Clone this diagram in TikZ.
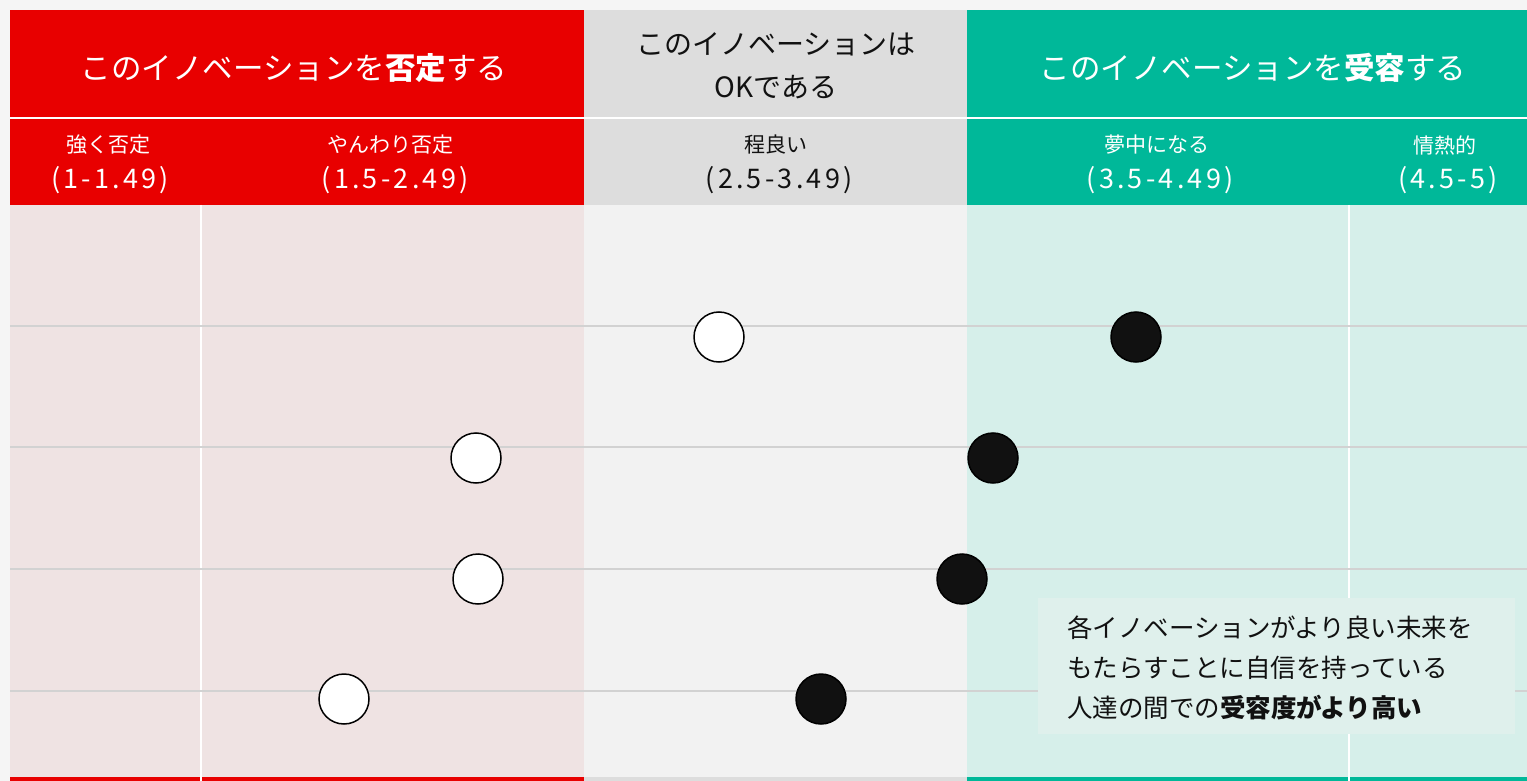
\documentclass[tikz,border=0pt]{standalone}
\usepackage{fontspec}
\setmainfont{Noto Sans CJK JP}
\newfontfamily\rangefont[LetterSpace=12]{Noto Sans CJK JP}
\definecolor{bg}{HTML}{F5F5F5}
\definecolor{hred}{HTML}{E80000}
\definecolor{hgray}{HTML}{DDDDDD}
\definecolor{hgreen}{HTML}{00B899}
\definecolor{bred}{HTML}{EFE3E3}
\definecolor{bgray}{HTML}{F2F2F2}
\definecolor{bgreen}{HTML}{D6EFEA}
\definecolor{boxfill}{HTML}{DFF0EC}
\definecolor{gridline}{HTML}{D2D2D2}
\definecolor{ink}{HTML}{111111}
\tikzset{
  headtitle/.style={inner sep=0, align=center, font=\fontsize{30.5}{43}\selectfont},
  sublabel/.style={inner sep=0, font=\fontsize{21}{24}\selectfont},
  rangelabel/.style={inner sep=0, font=\rangefont\fontsize{27}{30}\selectfont},
  opencirc/.style={circle, minimum size=50, inner sep=0, draw=black, line width=1.5, fill=white},
  fullcirc/.style={circle, minimum size=50, inner sep=0, draw=black, line width=1.5, fill=ink},
  gridln/.style={gridline, line width=1.6},
  sepln/.style={white, line width=2}
}
\begin{document}
\begin{tikzpicture}[x=1pt,y=-1pt]
\useasboundingbox (0,0) rectangle (1527,781);
\fill[bg] (0,0) rectangle (1527,781);
% header fills
\fill[hred] (10,10) rectangle (584,205);
\fill[hgray] (584,10) rectangle (967,205);
\fill[hgreen] (967,10) rectangle (1527,205);
% body fills
\fill[bred] (10,205) rectangle (584,781);
\fill[bgray] (584,205) rectangle (967,781);
\fill[bgreen] (967,205) rectangle (1527,781);
% bottom lines
\fill[hred] (10,777) rectangle (584,781);
\fill[hgray] (584,777) rectangle (967,781);
\fill[hgreen] (967,777) rectangle (1527,781);
% separators
\draw[sepln] (10,118) -- (1527,118);
\draw[sepln] (201,205) -- (201,781);
\draw[sepln] (1349,205) -- (1349,781);
% grid lines
\coordinate (g1l) at (10,326); \coordinate (g1r) at (1527,326);
\coordinate (g2l) at (10,447); \coordinate (g2r) at (1527,447);
\coordinate (g3l) at (10,569); \coordinate (g3r) at (1527,569);
\coordinate (g4l) at (10,691); \coordinate (g4r) at (1527,691);
\draw[gridln] (g1l) -- (g1r);
\draw[gridln] (g2l) -- (g2r);
\draw[gridln] (g3l) -- (g3r);
\draw[gridln] (g4l) -- (g4r);
% titles
\node[headtitle, text=white] (tneg) at (294,68) {このイノベーションを\textbf{否定}する};
\node[headtitle, text=ink, font=\fontsize{28}{43}\selectfont] (tok) at (776,66) {このイノベーションは\\OKである};
\node[headtitle, text=white] (tacc) at (1253,68) {このイノベーションを\textbf{受容}する};
% sub labels
\node[sublabel, text=white] (s1) at (108,145) {強く否定};
\node[rangelabel, text=white] (r1) at (110,180) {(1-1.49)};
\node[sublabel, text=white] (s2) at (390,145) {やんわり否定};
\node[rangelabel, text=white] (r2) at (395,180) {(1.5-2.49)};
\node[sublabel, text=ink] (s3) at (776,145) {程良い};
\node[rangelabel, text=ink] (r3) at (779,180) {(2.5-3.49)};
\node[sublabel, text=white] (s4) at (1157,145) {夢中になる};
\node[rangelabel, text=white] (r4) at (1160,180) {(3.5-4.49)};
\node[sublabel, text=white] (s5) at (1445,145) {情熱的};
\node[rangelabel, text=white] (r5) at (1448,180) {(4.5-5)};
% circles
\node[opencirc] (w1) at (719,337) {};
\node[fullcirc] (b1) at (1136,337) {};
\node[opencirc] (w2) at (476,458) {};
\node[fullcirc] (b2) at (993,458) {};
\node[opencirc] (w3) at (478,579) {};
\node[fullcirc] (b3) at (962,579) {};
\node[opencirc] (w4) at (344,699) {};
\node[fullcirc] (b4) at (821,699) {};
% note box
\node[fill=boxfill, minimum width=477, minimum height=136, inner sep=0] (box) at (1276.5,666) {};
\node[anchor=west, align=left, inner sep=0, text=ink, font=\fontsize{25.5}{40}\selectfont] (note) at (1067,668)
  {各イノベーションがより良い未来を\\もたらすことに自信を持っている\\人達の間での\textbf{受容度がより高い}};
\end{tikzpicture}
\end{document}
